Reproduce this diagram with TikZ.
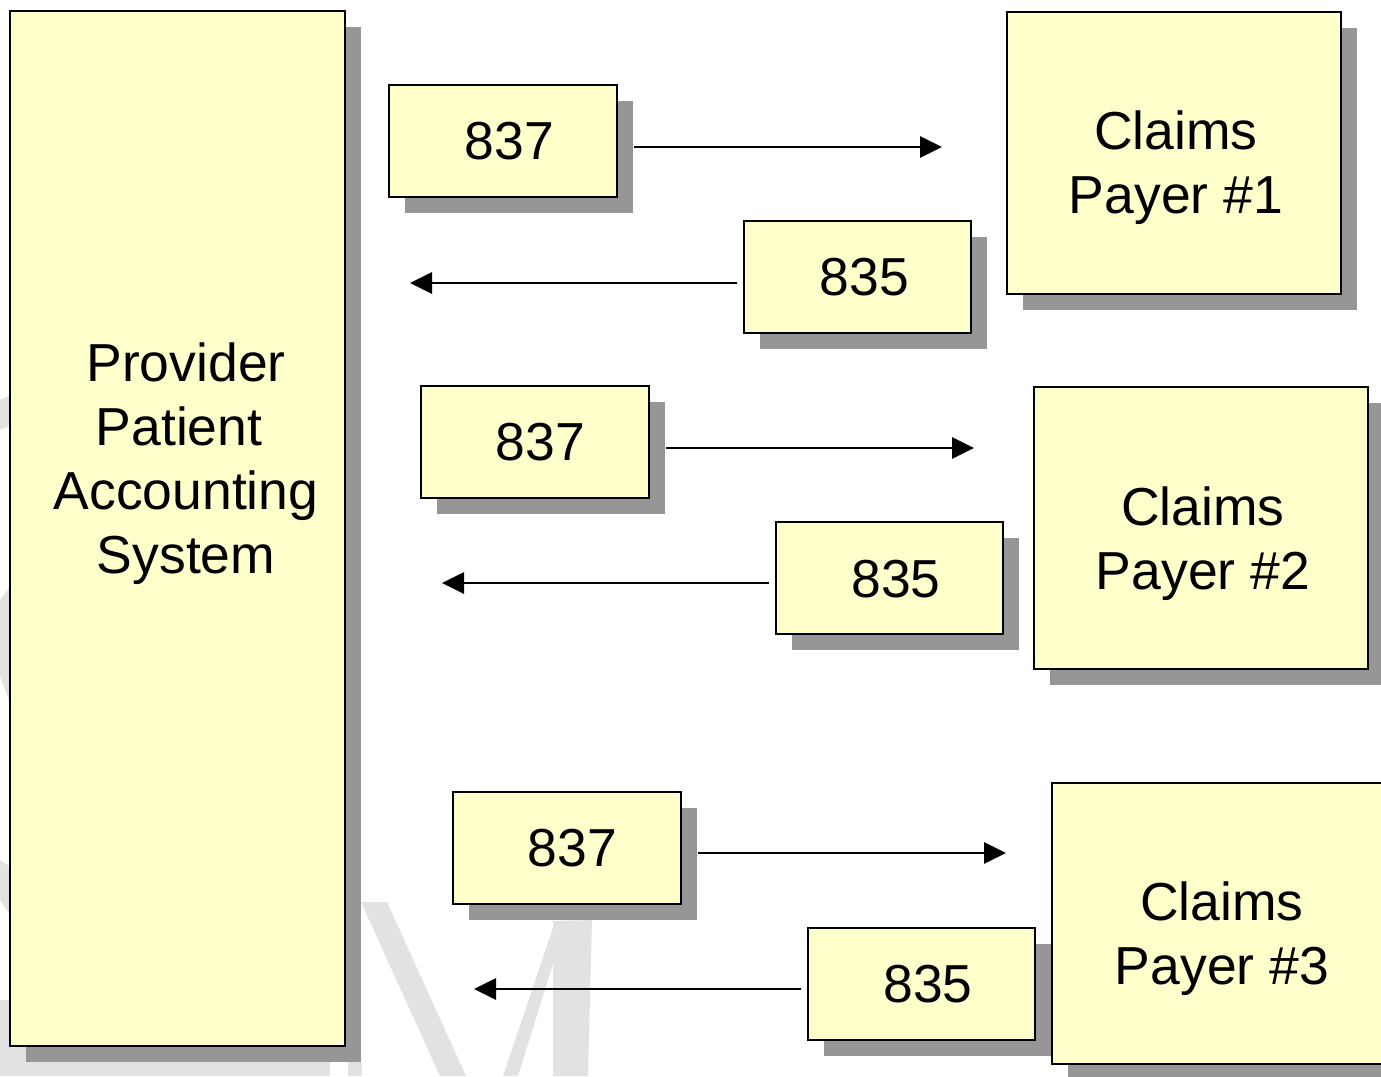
\documentclass[tikz,border=0pt]{standalone}
\usepackage{fontspec}
\setmainfont{Liberation Sans}
\usetikzlibrary{arrows.meta,shadows}
\definecolor{boxfill}{HTML}{FFFFCC}
\definecolor{shadowc}{HTML}{969696}
\definecolor{wm}{HTML}{E2E2E2}
\begin{document}
\begin{tikzpicture}[x=1pt,y=-1pt,
  box/.style={draw=black, line width=2.3pt, fill=boxfill, inner sep=0pt, outer sep=0pt, anchor=north west,
    drop shadow={shadow xshift=16pt, shadow yshift=-16pt, opacity=1, fill=shadowc, draw=none}},
  lbl/.style={font=\fontsize{53.5}{64}\selectfont, align=center, inner sep=0pt},
  arr/.style={line width=2.8pt, -{Triangle[length=22pt,width=21pt]}}]
\useasboundingbox (0,0) rectangle (1381,1076);
\clip (0,0) rectangle (1381,1076);
\fill[white] (0,0) rectangle (1381,1076);
% faint watermark
\fill[wm] (0,400) -- (9,396) -- (9,426) -- (0,430) -- cycle;
\fill[wm] (0,600) -- (9,588) -- (9,700) -- (0,676) -- cycle;
\fill[wm] (0,860) -- (9,866) -- (9,913) -- (0,900) -- cycle;
\fill[wm] (0,1000) rectangle (10,1076);
\fill[wm] (0,1046) rectangle (330,1076);
\fill[wm] (348,1062) rectangle (362,1076);
\fill[wm] (361,902) -- (387,902) -- (466,1076) -- (440,1076) -- cycle;
\fill[wm] (503,1076) -- (555,922) -- (566,922) -- (518,1076) -- cycle;
\fill[wm] (553,921) -- (592,920) -- (588,1076) -- (553,1076) -- cycle;
% boxes
\node[box, minimum width=335pt, minimum height=1035pt] (prov) at (10,11) {};
\node[box, minimum width=228pt, minimum height=112pt] (a837) at (389,85) {};
\node[box, minimum width=227pt, minimum height=112pt] (a835) at (744,221) {};
\node[box, minimum width=334pt, minimum height=282pt] (pay1) at (1007,12) {};
\node[box, minimum width=228pt, minimum height=112pt] (b837) at (421,386) {};
\node[box, minimum width=227pt, minimum height=112pt] (b835) at (776,522) {};
\node[box, minimum width=334pt, minimum height=282pt] (pay2) at (1034,387) {};
\node[box, minimum width=228pt, minimum height=112pt] (c837) at (453,792) {};
\node[box, minimum width=227pt, minimum height=112pt] (c835) at (808,928) {};
\node[box, minimum width=334pt, minimum height=281pt] (pay3) at (1052,783) {};
% labels
\node[lbl] (lprov) at (186,464) {Provider\\Patient\kern14pt\\Accounting\\System};
\node[lbl] (l1a) at (509.5,141) {837};
\node[lbl] (l1b) at (864.5,277.5) {835};
\node[lbl] (lp1) at (1176,168) {Claims\\Payer \#1};
\node[lbl] (l2a) at (540.5,442.5) {837};
\node[lbl] (l2b) at (896,579) {835};
\node[lbl] (lp2) at (1203,543.5) {Claims\\Payer \#2};
\node[lbl] (l3a) at (572.5,848) {837};
\node[lbl] (l3b) at (928,984.5) {835};
\node[lbl] (lp3) at (1222,938.5) {Claims\\Payer \#3};
% arrows
\coordinate (t1) at (942,147);
\coordinate (t2) at (410,283);
\coordinate (t3) at (974,448);
\coordinate (t4) at (442,583);
\coordinate (t5) at (1006,853);
\coordinate (t6) at (474,989);
\draw[arr, shorten <=17pt] (a837.east |- t1) -- (t1);
\draw[arr, shorten <=7pt] (a835.west |- t2) -- (t2);
\draw[arr, shorten <=17pt] (b837.east |- t3) -- (t3);
\draw[arr, shorten <=7pt] (b835.west |- t4) -- (t4);
\draw[arr, shorten <=17pt] (c837.east |- t5) -- (t5);
\draw[arr, shorten <=7pt] (c835.west |- t6) -- (t6);
\end{tikzpicture}
\end{document}
